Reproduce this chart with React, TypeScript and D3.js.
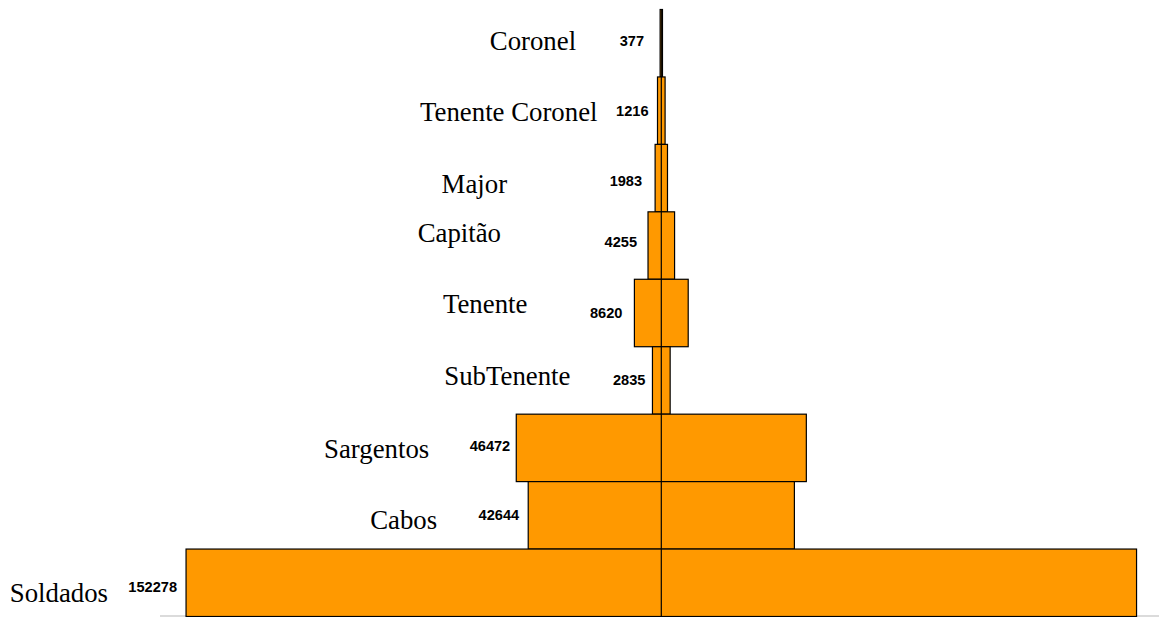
import React from "react";
import * as d3 from "d3";

const categories = ["Coronel", "Tenente Coronel", "Major", "Capitão", "Tenente", "SubTenente", "Sargentos", "Cabos", "Soldados"];
const values = [377, 1216, 1983, 4255, 8620, 2835, 46472, 42644, 152278];

// label layout (gap from bar's left edge, vertical nudge from band centre)
const catGap = [84, 60, 148, 147, 107, 82, 87, 91, 78];
const catDy = [6.5, 10, 14.5, -4, -0.5, 4.5, 10, 13.5, 19];
const numGap = [16, 9, 13, 11, 12, 7, 6, 9, 9];
const numDy = [2.5, 5, 7.5, 1.5, 5, 4.5, 3, 4.5, 9];

const W = 1159;
const H = 617;
const CX = 661.3;
const TOP = 9.5;
const BOTTOM = 616.5;

export default function App() {
  const maxV = d3.max(values) as number;
  const x = d3.scaleLinear().domain([0, maxV]).range([0, 950.5]);
  const y = d3.scaleBand<string>().domain(categories).range([TOP, BOTTOM]).padding(0);
  const bw = y.bandwidth();

  return (
    <svg width={W} height={H} style={{ position: "absolute", left: 0, top: 0, background: "#fff" }}>
      <line x1={160} x2={W} y1={616} y2={616} stroke="#cfcfcf" strokeWidth={1.5} />
      {categories.map((c, i) => {
        const w = x(values[i]);
        const left = CX - w / 2;
        const yy = y(c) as number;
        return (
          <rect key={c} x={left} y={yy} width={w} height={bw} fill="#FF9900" stroke="#000" strokeWidth={1.2} />
        );
      })}
      <line x1={CX} x2={CX} y1={TOP} y2={616} stroke="#000" strokeWidth={1.2} />
      {categories.map((c, i) => {
        const w = x(values[i]);
        const left = CX - w / 2;
        const cy = (y(c) as number) + bw / 2;
        return (
          <g key={"l" + c}>
            <text x={left - catGap[i]} y={cy + catDy[i]} textAnchor="end" fontFamily="'Liberation Serif', 'Times New Roman', serif" fontSize={26.8} fill="#000">
              {c}
            </text>
            <text x={left - numGap[i]} y={cy + numDy[i]} textAnchor="end" fontFamily="'Liberation Sans', Arial, sans-serif" fontWeight="bold" fontSize={14.6} fill="#000">
              {values[i]}
            </text>
          </g>
        );
      })}
    </svg>
  );
}
